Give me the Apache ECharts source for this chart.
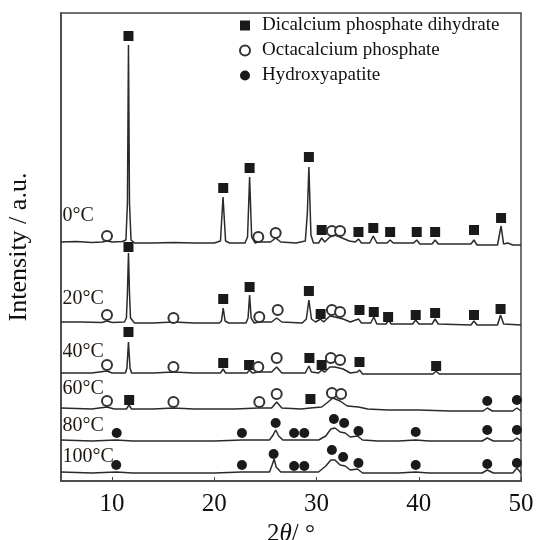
<!DOCTYPE html>
<html>
<head>
<meta charset="utf-8">
<script src="https://cdn.jsdelivr.net/npm/echarts@6/dist/echarts.min.js"></script>
<style>
  html, body { margin: 0; padding: 0; background: #fff; }
  #chart { width: 537px; height: 540px; }
</style>
</head>
<body>
<div id="chart"></div>
<script>
// XRD patterns, [2theta, intensity above own baseline]
const trace0C = [[5, 1], [6.5, 1.5], [8, 0.5], [9, 1], [9.5, 2], [10, 1], [11, 1.5], [11.35, 3], [11.5, 40], [11.6, 198], [11.7, 40], [11.85, 3], [12.2, 0], [14, 0], [16, 0.5], [18, 0], [20, 0], [20.6, 2], [20.85, 46], [21.1, 2], [21.5, 0], [23, 0], [23.25, 6], [23.45, 66], [23.65, 6], [24, 0], [24.3, 1], [25.5, 1], [26, 5], [26.5, 1], [28, 0], [28.9, 2], [29.1, 30], [29.25, 76], [29.45, 8], [29.7, 0], [30.2, 0], [30.5, 5], [30.8, 1], [31.3, 6], [31.8, 8], [32.5, 5], [33.2, 2], [33.8, 1], [34.1, 4], [34.4, 0], [35.2, 0], [35.55, 7], [35.9, 0], [36.9, 0], [37.2, 3], [37.5, 0], [39.5, 0], [39.8, 3], [40.1, -1], [41.3, -1], [41.6, 3], [41.9, -1], [43, -1], [45.1, -1], [45.4, 3], [45.7, -2], [47.7, -2], [48.05, 17], [48.3, -1], [48.7, 0], [49.2, -2], [50, -2]];
const trace20C = [[5, 1], [7, 1], [9, 0.5], [9.5, 2], [10, 0.5], [11.2, 1], [11.4, 5], [11.5, 30], [11.6, 70], [11.7, 30], [11.8, 5], [12.2, 0], [14, 0], [16, 1], [18, 0], [20.5, 0], [20.7, 2], [20.87, 15], [21.05, 2], [21.4, 0], [23.1, 0], [23.3, 5], [23.45, 28], [23.6, 5], [23.9, 0], [24.4, 1], [25.6, 1], [26.1, 5], [26.6, 1], [28.6, 0], [29, 4], [29.25, 23], [29.5, 4], [29.9, 1], [30.4, 4], [30.7, 1], [31.3, 7], [31.8, 6], [32.6, 4], [33.3, 1], [34.1, 4], [34.4, 0], [35.3, 0], [35.6, 6], [35.9, -1], [36.8, -1], [37.05, 3], [37.3, -1], [39.4, -1], [39.7, 3], [40, -1], [41.3, -1], [41.6, 4], [41.9, -1], [45.1, -2], [45.4, 2], [45.7, -2], [47.7, -2], [48, 8], [48.3, -1], [50, -2]];
const trace40C = [[5, 0], [8, 0], [9.5, 2], [10, 0], [11.3, 0], [11.45, 5], [11.6, 31], [11.75, 5], [11.9, 0], [14, 0], [16, 1], [18, 0], [20.6, 0], [20.87, 4], [21.1, 0], [23.2, 0], [23.45, 3], [23.7, 0], [24.3, 1], [25.6, 1], [26.1, 6], [26.6, 0], [28.9, 0], [29.25, 7], [29.5, 1], [30.2, 0], [30.5, 3], [30.8, 1], [31.3, 6], [31.8, 6], [32.6, 4], [33.3, 0], [34, 1], [34.2, 3], [34.5, -1], [36, -1], [38, -1], [41.4, -1], [41.7, 2], [42, -1], [46, -1], [48, -1], [50, -1]];
const trace60C = [[5, 1], [8, 0], [9.5, 2], [10.2, 0], [11.4, 0], [11.65, 4], [11.9, 0], [14, 0], [16, 1], [18, 0], [22, 0], [24.3, 1], [25.6, 1], [26.1, 7], [26.6, 1], [28.5, 0], [29.4, 1], [30.5, 2], [31, 6], [31.6, 11], [32.3, 8], [33, 3], [34.1, 2], [35, 0], [37, -1], [40, -1], [43, -2], [46.3, -2], [46.7, 1], [47.2, -2], [49.2, -2], [49.6, 1], [50, -2]];
const trace80C = [[5, 1], [8, 0], [10.4, 1], [12, 0], [16, 0], [20, 0], [22.7, 1], [25.4, 1], [25.75, 6], [26, 11], [26.3, 5], [26.7, 1], [27.8, 1], [28.8, 1], [30.2, 1], [30.9, 5], [31.4, 12], [31.8, 13], [32.3, 9], [32.8, 8], [33.3, 4], [34, 5], [34.5, 1], [36, 0], [38, 0], [39.7, 1], [41, 0], [44, 0], [46.2, 0], [46.7, 3], [47.3, 0], [49.2, 0], [49.6, 3], [50, 0]];
const trace100C = [[5, 1], [8, 0], [10.4, 1], [12, 0], [16, 0], [20, 0], [22.7, 1], [25.4, 1], [25.65, 8], [25.85, 14], [26.05, 6], [26.5, 1], [27.8, 1], [28.8, 1], [30.2, 1], [30.9, 7], [31.4, 13], [31.8, 13], [32.3, 8], [32.8, 7], [33.3, 3], [34, 4], [34.5, 0], [36, 0], [38, 0], [39.7, 1], [41, 0], [44, 0], [46.2, 0], [46.7, 3], [47.3, 0], [49.2, 0], [49.6, 5], [50, 0]];

const traces = [trace0C, trace20C, trace40C, trace60C, trace80C, trace100C];
const tempNames = ['0°C', '20°C', '40°C', '60°C', '80°C', '100°C'];
const baselines = [238, 158, 108, 72, 40, 8];
const tempLabelPos = [[5.1, 265], [5.1, 182], [5.1, 129], [5.1, 92], [5.1, 55], [5.1, 24]];

// phase markers, [2theta, intensity]
const dcpdMarks = [
  [11.6, 445], [20.87, 293], [23.45, 313], [29.25, 324], [30.5, 251], [34.1, 249], [35.55, 253], [37.2, 249], [39.8, 249], [41.6, 249], [45.4, 251], [48.05, 263],
  [11.6, 234], [20.87, 182], [23.45, 194], [29.25, 190], [30.4, 167], [34.2, 171], [35.6, 169], [37.0, 164], [39.7, 166], [41.6, 168], [45.4, 166], [48.0, 172],
  [11.6, 149], [20.87, 118], [23.4, 116], [29.3, 123], [30.5, 116], [34.2, 119], [41.7, 115],
  [11.67, 81], [29.4, 82]
];
const ocpMarks = [
  [9.5, 245], [24.3, 244], [26.0, 248], [31.5, 250], [32.3, 250],
  [9.5, 166], [16.0, 163], [24.4, 164], [26.2, 171], [31.5, 171], [32.3, 169],
  [9.5, 116], [16.0, 114], [24.3, 114], [26.1, 123], [31.4, 123], [32.3, 121],
  [9.5, 80], [16.0, 79], [24.4, 79], [26.1, 87], [31.5, 88], [32.4, 87]
];
const haMarks = [
  [46.7, 80], [49.6, 81],
  [10.45, 48], [22.7, 48], [26.0, 58], [27.8, 48], [28.8, 48], [31.7, 62], [32.7, 58], [34.1, 50], [39.7, 49], [46.7, 51], [49.6, 51],
  [10.4, 16], [22.7, 16], [25.8, 27], [27.8, 15], [28.8, 15], [31.5, 31], [32.6, 24], [34.1, 18], [39.7, 16], [46.7, 17], [49.6, 18]
];
const phaseNames = ['Dicalcium phosphate dihydrate', 'Octacalcium phosphate', 'Hydroxyapatite'];
const xTicks = [10, 20, 30, 40, 50];

const serif = '"Liberation Serif", "DejaVu Serif", serif';
const ink = '#1a1a1a';

const chart = echarts.init(document.getElementById('chart'));

const lineSeries = traces.map((tr, i) => ({
  type: 'line',
  name: tempNames[i],
  showSymbol: false,
  silent: true,
  z: 2,
  lineStyle: { color: '#2a2a2a', width: 1.5 },
  data: tr.map(p => [p[0], p[1] + baselines[i]]),
}));

chart.setOption({
  animation: false,
  backgroundColor: '#fff',
  grid: {
    left: 61,
    right: 16,
    top: 13,
    bottom: 59,
    outerBoundsMode: 'none',
    containLabel: false,
    show: true,
    borderColor: '#444',
    borderWidth: 1.5,
  },
  legend: {
    data: phaseNames,
    orient: 'vertical',
    left: 234,
    top: 11,
    itemWidth: 10,
    itemHeight: 10,
    itemGap: 6,
    textStyle: { fontFamily: serif, fontSize: 19, color: '#111', lineHeight: 18, padding: [0, 0, 0, 7] },
  },
  xAxis: {
    type: 'value',
    min: 5,
    max: 50,
    name: '{n|2}{i|θ}{n|/ °}',
    nameLocation: 'middle',
    nameGap: 28,
    nameTextStyle: {
      rich: {
        n: { fontFamily: serif, fontSize: 25, color: '#111' },
        i: { fontFamily: serif, fontSize: 25, fontStyle: 'italic', color: '#111' },
      },
    },
    axisLine: { lineStyle: { color: '#444', width: 1.5 } },
    axisTick: { inside: true, length: 4, customValues: xTicks, lineStyle: { color: '#444' } },
    axisLabel: { customValues: xTicks, margin: 11, fontFamily: serif, fontSize: 25, color: '#111' },
    splitLine: { show: false },
  },
  yAxis: {
    type: 'value',
    min: 0,
    max: 468,
    name: 'Intensity / a.u.',
    nameLocation: 'middle',
    nameGap: 29,
    nameTextStyle: { fontFamily: serif, fontSize: 26, color: '#111' },
    axisLine: { show: true, lineStyle: { color: '#444', width: 1.5 } },
    axisTick: { show: false },
    axisLabel: { show: false },
    splitLine: { show: false },
  },
  series: [
    ...lineSeries,
    {
      type: 'scatter',
      name: phaseNames[0],
      symbol: 'rect',
      symbolSize: 10,
      z: 5,
      itemStyle: { color: ink, opacity: 1 },
      data: dcpdMarks,
    },
    {
      type: 'scatter',
      name: phaseNames[1],
      symbol: 'emptyCircle',
      symbolSize: 10,
      z: 5,
      itemStyle: { color: '#333', borderWidth: 1.2, opacity: 1 },
      data: ocpMarks,
    },
    {
      type: 'scatter',
      name: phaseNames[2],
      symbol: 'circle',
      symbolSize: 10,
      z: 5,
      itemStyle: { color: ink, opacity: 1 },
      data: haMarks,
    },
    {
      type: 'scatter',
      name: 'labels',
      symbolSize: 1,
      silent: true,
      z: 4,
      itemStyle: { color: 'transparent', opacity: 1 },
      label: {
        show: true,
        position: 'right',
        distance: 0,
        opacity: 1,
        fontFamily: serif,
        fontSize: 20,
        color: '#1e1812',
        formatter: p => tempNames[p.dataIndex],
      },
      data: tempLabelPos,
    },
  ],
});
</script>
</body>
</html>
